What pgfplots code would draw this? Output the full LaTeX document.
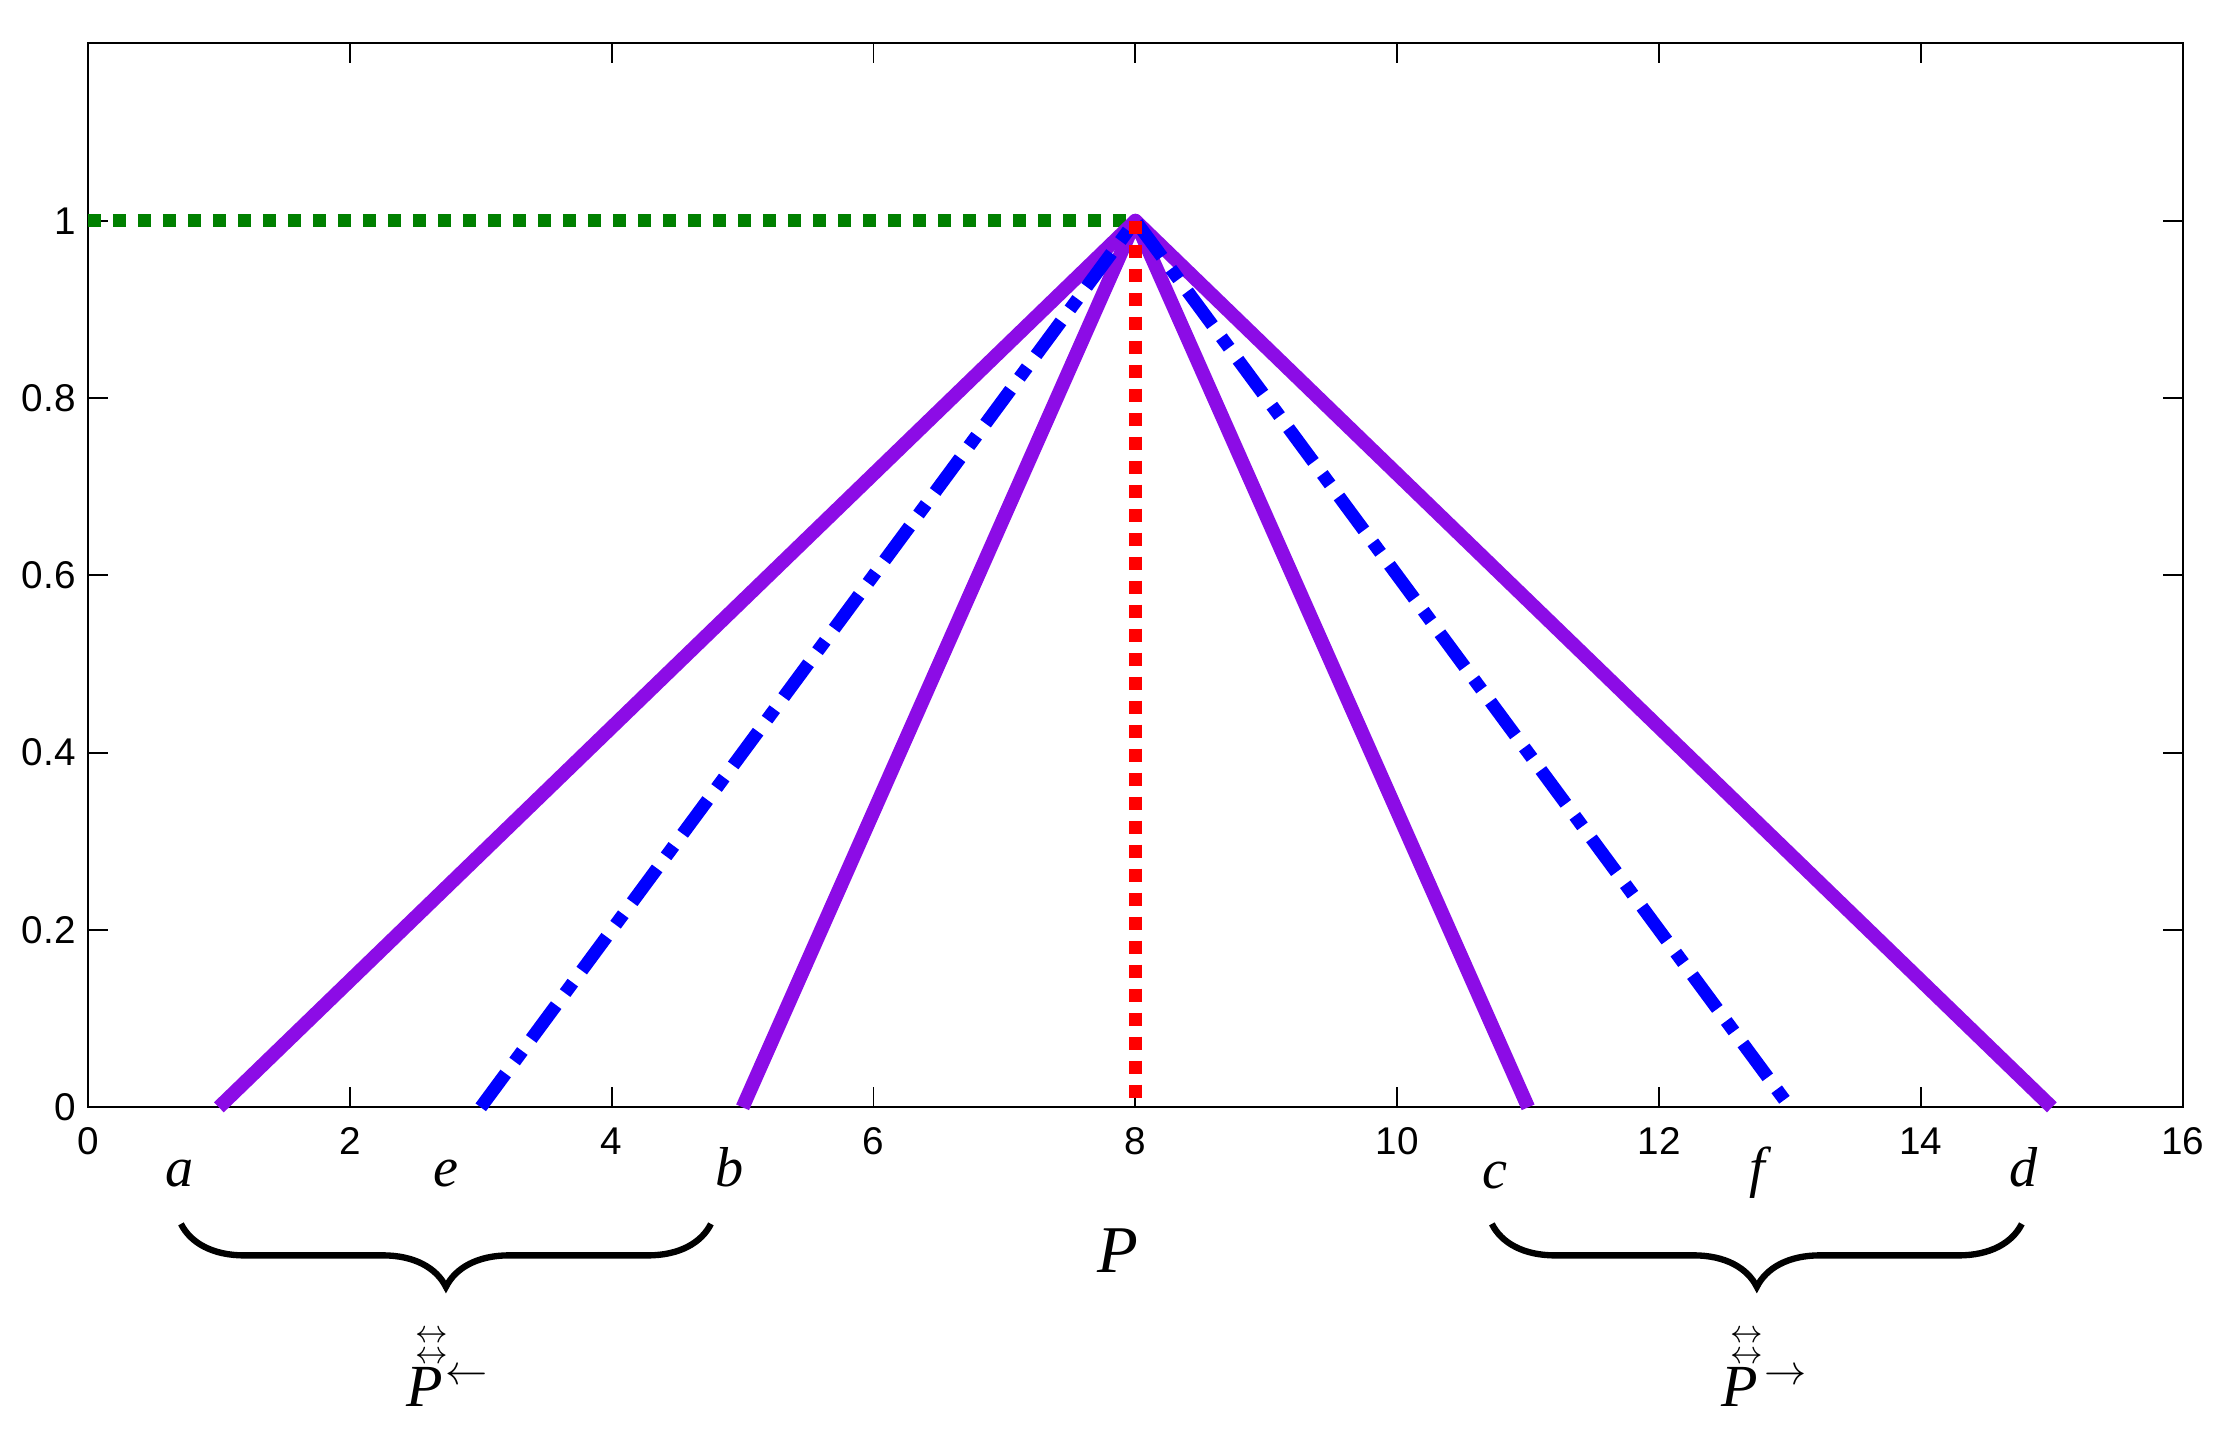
\documentclass[border=0pt]{standalone}
\usepackage{amsmath}
\usepackage{fontspec}
\setmainfont{Liberation Serif}
\setsansfont{Liberation Sans}
\usepackage{pgfplots}
\pgfplotsset{compat=1.18}
\usetikzlibrary{decorations.pathreplacing}
\definecolor{vio}{RGB}{140,12,230}
\definecolor{dgreen}{RGB}{0,128,0}

\begin{document}
\begin{tikzpicture}
\begin{axis}[
    scale only axis,
    width=20.95cm, height=10.64cm,
    xmin=0, xmax=16, ymin=0, ymax=1.2,
    xtick={0,2,...,16}, ytick={0,0.2,0.4,0.6,0.8,1},
    yticklabels={0,0.2,0.4,0.6,0.8,1},
    tick align=inside, major tick length=2mm,
    tick style={black, line width=0.5pt},
    axis line style={line width=0.6pt},
    tick label style={font=\sffamily\fontsize{11}{13}\selectfont},
    /pgf/number format/assume math mode=true,
    xticklabel style={yshift=-0.8mm},
    clip=false,
]
% green: level 1 up to the apex
\addplot[dgreen, line width=1.3mm, dash pattern=on 1.3mm off 1.2mm] coordinates {(0,1) (8,1)};
% outer triangle a-P-d
\addplot[vio, line width=1.4mm, line join=round] coordinates {(1,0) (8,1) (15,0)};
% inner triangle b-P-c
\addplot[vio, line width=1.4mm, line join=round] coordinates {(5,0) (8,1) (11,0)};
% e-P-f dash-dot
\addplot[blue, line width=1.3mm, dash pattern=on 4.2mm off 1.5mm on 1.3mm off 1.5mm] coordinates {(3,0) (8,1) (13,0)};
% red: vertical at the apex
\addplot[red, line width=1.3mm, dash pattern=on 1.3mm off 1.1mm] coordinates {(8,1) (8,0)};

\coordinate (bbA) at (axis cs:-0.672,1.249);
\coordinate (bbB) at (axis cs:16.30,-0.3646);
\end{axis}

% annotations, placed in pixels of the reference from its top-left corner
\begin{scope}[shift={(bbA)}, x=0.1mm, y=-0.1mm]
  \begin{scope}[every node/.style={anchor=base, inner sep=0pt, font=\fontsize{16}{19}\selectfont}]
    \node at (180,1187) {\textit{a}};
    \node at (446,1187) {\textit{e}};
    \node at (730,1187) {\textit{b}};
    \node at (1495,1189) {\textit{c}};
    \node at (1761,1187) {\textit{f}};
    \node at (2024,1187) {\textit{d}};
  \end{scope}
  \node[anchor=base, inner sep=0pt, font=\fontsize{19}{22}\selectfont] at (1118,1273) {\textit{P}};
  \draw[line width=1.8pt, decorate, decoration={brace, mirror, amplitude=6.3mm}] (181,1224) -- (711,1224);
  \draw[line width=1.8pt, decorate, decoration={brace, mirror, amplitude=6.3mm}] (1492,1224) -- (2022,1224);
  % left label
  \node[anchor=base, inner sep=0pt, font=\fontsize{17}{20}\selectfont] at (425,1407) {\textit{P}};
  \node[inner sep=0pt, font=\fontsize{9}{10}\selectfont] at (432,1337) {$\leftrightarrow$};
  \node[inner sep=0pt, font=\fontsize{9}{10}\selectfont] at (432,1358) {$\leftrightarrow$};
  \node[inner sep=0pt, font=\fontsize{12}{14}\selectfont] at (467,1377) {$\leftarrow$};
  % right label
  \node[anchor=base, inner sep=0pt, font=\fontsize{17}{20}\selectfont] at (1740,1407) {\textit{P}};
  \node[inner sep=0pt, font=\fontsize{9}{10}\selectfont] at (1747,1337) {$\leftrightarrow$};
  \node[inner sep=0pt, font=\fontsize{9}{10}\selectfont] at (1747,1358) {$\leftrightarrow$};
  \node[inner sep=0pt, font=\fontsize{12}{14}\selectfont] at (1786,1377) {$\rightarrow$};
\end{scope}

\pgfresetboundingbox
\path (bbA) rectangle (bbB);
\end{tikzpicture}
\end{document}
